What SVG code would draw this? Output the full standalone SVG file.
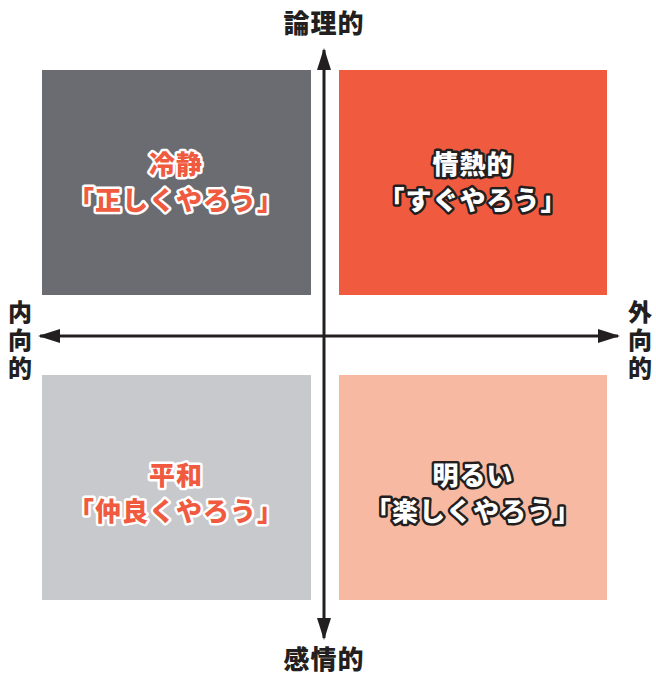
<svg xmlns="http://www.w3.org/2000/svg" width="656" height="677" viewBox="0 0 656 677">
<style>
.q-text{font-family:"Noto Sans CJK JP","Noto Sans",sans-serif;font-weight:900;font-size:26px;letter-spacing:1px;text-anchor:middle;paint-order:stroke;stroke-linejoin:round}
.red{fill:#f05a3f;stroke:#ffffff;stroke-width:5px}
.white{fill:#ffffff;stroke:#231f20;stroke-width:5px}
.axis-label{font-family:"Noto Sans CJK JP","Noto Sans",sans-serif;font-weight:900;font-size:26px;letter-spacing:1px;fill:#231f20;text-anchor:middle}
.v-label{font-family:"Noto Sans CJK JP","Noto Sans",sans-serif;font-weight:900;font-size:24px;fill:#231f20;writing-mode:vertical-rl;letter-spacing:4px}
.axis{stroke:#231f20;stroke-width:3;fill:none}
</style>
<defs>
<marker id="ah" viewBox="0 0 22 14" refX="20" refY="7" markerWidth="22" markerHeight="14" markerUnits="userSpaceOnUse" orient="auto">
<path d="M0,0 L22,7 L0,14 Z" fill="#231f20"/>
</marker>
</defs>
<rect width="656" height="677" fill="#ffffff"/>
<g id="q-top-left">
<rect x="42" y="70" width="269" height="225" fill="#6b6c71"/>
<text class="q-text red" x="176" y="174">冷静</text>
<text class="q-text red" x="176" y="210">「正しくやろう」</text>
</g>
<g id="q-top-right">
<rect x="339" y="70" width="268" height="225" fill="#f05a3f"/>
<text class="q-text white" x="473" y="174">情熱的</text>
<text class="q-text white" x="473" y="210">「すぐやろう」</text>
</g>
<g id="q-bottom-left">
<rect x="42" y="375" width="269" height="225" fill="#c8c9cc"/>
<text class="q-text red" x="176" y="485">平和</text>
<text class="q-text red" x="176" y="521">「仲良くやろう」</text>
</g>
<g id="q-bottom-right">
<rect x="339" y="375" width="268" height="225" fill="#f7b9a1"/>
<text class="q-text white" x="473" y="485">明るい</text>
<text class="q-text white" x="473" y="521">「楽しくやろう」</text>
</g>
<g id="connectors">
<line class="axis" x1="324" y1="336" x2="324" y2="50" marker-end="url(#ah)"/>
<line class="axis" x1="324" y1="336" x2="324" y2="638" marker-end="url(#ah)"/>
<line class="axis" x1="324" y1="336" x2="40" y2="336" marker-end="url(#ah)"/>
<line class="axis" x1="324" y1="336" x2="618" y2="336" marker-end="url(#ah)"/>
</g>
<g id="label-top"><text class="axis-label" x="324" y="33">論理的</text></g>
<g id="label-bottom"><text class="axis-label" x="324" y="669">感情的</text></g>
<g id="label-left"><text class="v-label" x="20" y="300">内向的</text></g>
<g id="label-right"><text class="v-label" x="640" y="300">外向的</text></g>
</svg>
